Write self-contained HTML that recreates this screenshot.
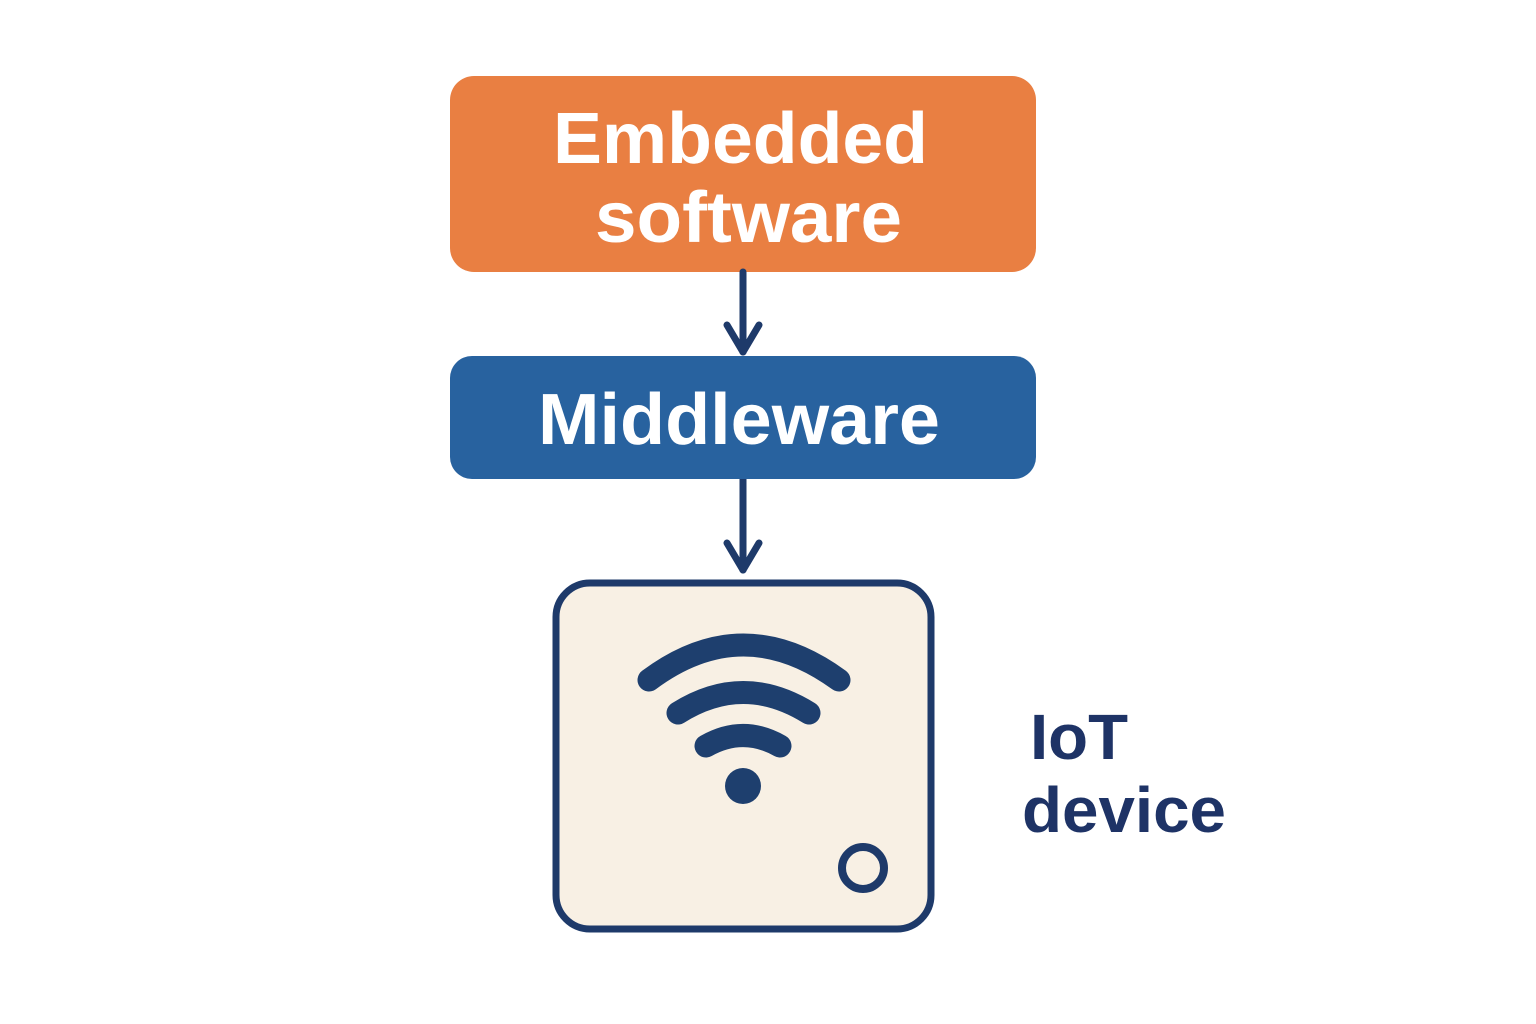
<!DOCTYPE html>
<html><head><meta charset="utf-8"><style>
html,body{margin:0;padding:0;background:#fff;}
svg{display:block}
</style></head><body>
<svg width="1536" height="1024" viewBox="0 0 1536 1024" xmlns="http://www.w3.org/2000/svg">
<rect x="450" y="76" width="586" height="196" rx="24" fill="#E97F42"/>
<text x="553" y="163" textLength="375" lengthAdjust="spacingAndGlyphs" font-family="Liberation Sans, sans-serif" font-weight="bold" font-size="72" fill="#fff">Embedded</text>
<text x="595" y="242" textLength="307" lengthAdjust="spacingAndGlyphs" font-family="Liberation Sans, sans-serif" font-weight="bold" font-size="72" fill="#fff">software</text>
<g stroke="#1E3A6A" stroke-width="7" fill="none" stroke-linecap="round" stroke-linejoin="round">
<line x1="743" y1="272" x2="743" y2="352"/>
<polyline points="727,325 743,352 759,325"/>
<line x1="743" y1="479" x2="743" y2="570"/>
<polyline points="727,543 743,570 759,543"/>
</g>
<rect x="450" y="356" width="586" height="123" rx="22" fill="#28629F"/>
<text x="538" y="444" textLength="402" lengthAdjust="spacingAndGlyphs" font-family="Liberation Sans, sans-serif" font-weight="bold" font-size="72" fill="#fff">Middleware</text>
<rect x="556" y="583" width="375" height="346" rx="34" fill="#F8F0E4" stroke="#1E3A6A" stroke-width="7"/>
<g stroke="#1E3F6E" stroke-width="23" fill="none" stroke-linecap="round">
<path d="M649 680 Q743 610 839 680"/>
<path d="M678 713 Q743 672 809 713"/>
<path d="M706 746 Q743 725 780 746"/>
</g>
<circle cx="743" cy="786" r="18" fill="#1E3F6E"/>
<circle cx="863" cy="868" r="21" fill="none" stroke="#1E3A6A" stroke-width="8"/>
<text x="1030" y="759" textLength="98" lengthAdjust="spacingAndGlyphs" font-family="Liberation Sans, sans-serif" font-weight="bold" font-size="64" fill="#1E3366">IoT</text>
<text x="1022" y="832" textLength="204" lengthAdjust="spacingAndGlyphs" font-family="Liberation Sans, sans-serif" font-weight="bold" font-size="64" fill="#1E3366">device</text>
</svg>
</body></html>
